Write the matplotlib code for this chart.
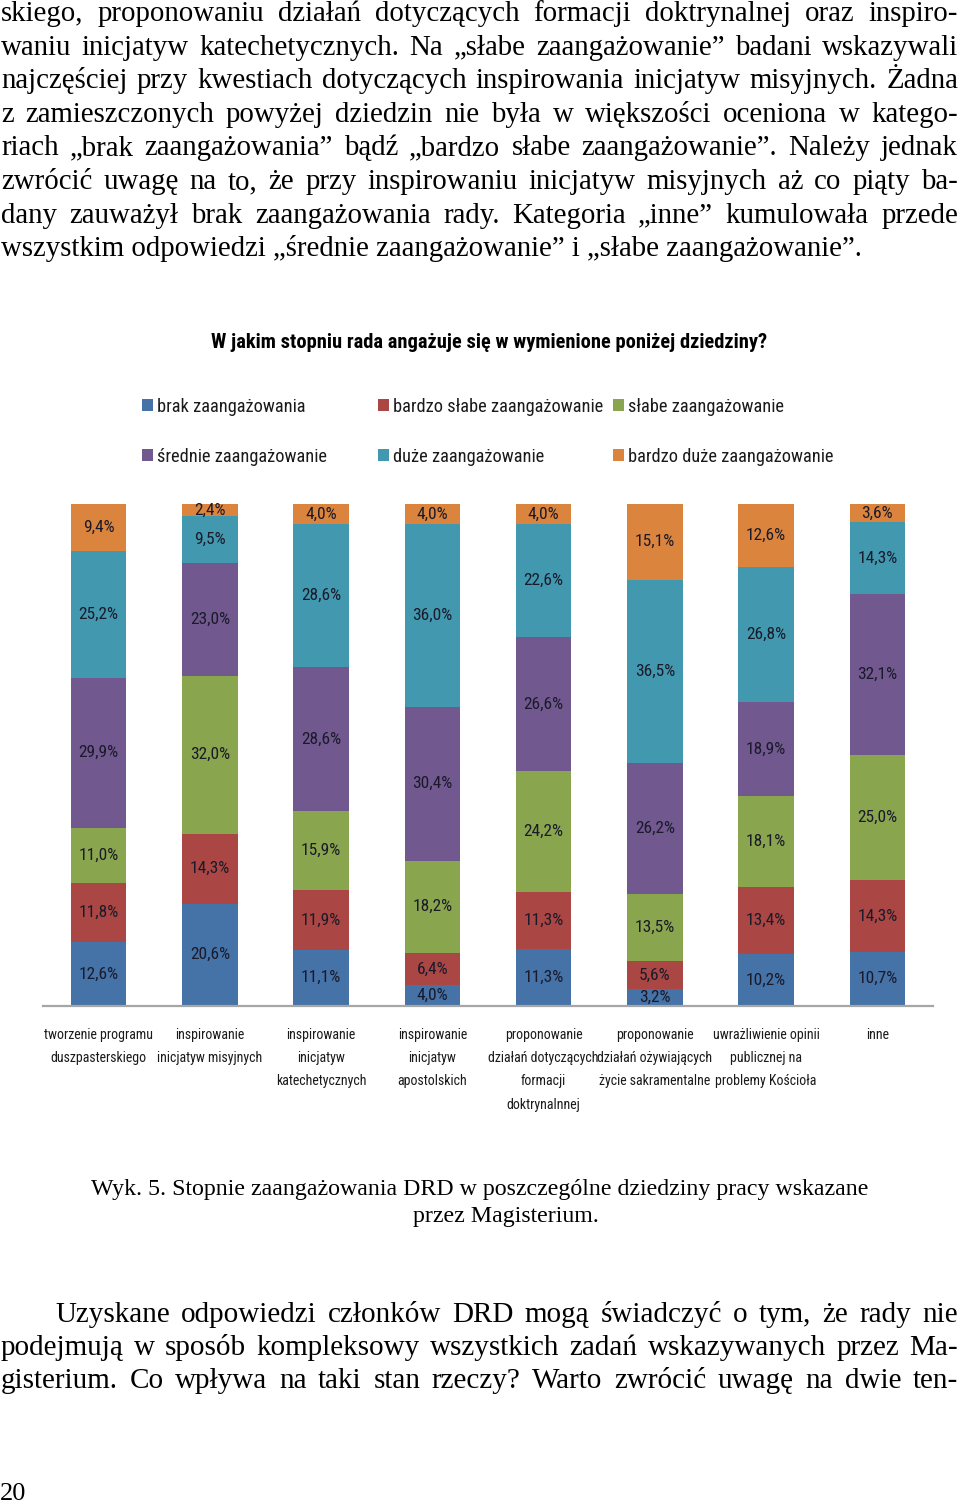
import matplotlib
matplotlib.use('Agg')
import matplotlib.pyplot as plt
import matplotlib.font_manager as fm
from matplotlib.patches import Rectangle
import numpy as np

# ---------------- data ----------------
categories = [
    ["tworzenie programu", "duszpasterskiego"],
    ["inspirowanie", "inicjatyw misyjnych"],
    ["inspirowanie", "inicjatyw", "katechetycznych"],
    ["inspirowanie", "inicjatyw", "apostolskich"],
    ["proponowanie", "działań dotyczących", "formacji", "doktrynalnnej"],
    ["proponowanie", "działań ożywiających", "życie sakramentalne"],
    ["uwrażliwienie opinii", "publicznej na", "problemy Kościoła"],
    ["inne"],
]
series_names = ["brak zaangażowania", "bardzo słabe zaangażowanie", "słabe zaangażowanie",
                "średnie zaangażowanie", "duże zaangażowanie", "bardzo duże zaangażowanie"]
brak = [12.6, 20.6, 11.1, 4.0, 11.3, 3.2, 10.2, 10.7]
bardzo_slabe = [11.8, 14.3, 11.9, 6.4, 11.3, 5.6, 13.4, 14.3]
slabe = [11.0, 32.0, 15.9, 18.2, 24.2, 13.5, 18.1, 25.0]
srednie = [29.9, 23.0, 28.6, 30.4, 26.6, 26.2, 18.9, 32.1]
duze = [25.2, 9.5, 28.6, 36.0, 22.6, 36.5, 26.8, 14.3]
bardzo_duze = [9.4, 2.4, 4.0, 4.0, 4.0, 15.1, 12.6, 3.6]
series = [brak, bardzo_slabe, slabe, srednie, duze, bardzo_duze]
colors = ['#4572A7', '#AA4643', '#89A54E', '#71588F', '#4198AF', '#DB843D']

title = "W jakim stopniu rada angażuje się w wymienione poniżej dziedziny?"

para1 = [
    "skiego, proponowaniu działań dotyczących formacji doktrynalnej oraz inspiro-",
    "waniu inicjatyw katechetycznych. Na „słabe zaangażowanie” badani wskazywali",
    "najczęściej przy kwestiach dotyczących inspirowania inicjatyw misyjnych. Żadna",
    "z zamieszczonych powyżej dziedzin nie była w większości oceniona w katego-",
    "riach „brak zaangażowania” bądź „bardzo słabe zaangażowanie”. Należy jednak",
    "zwrócić uwagę na to, że przy inspirowaniu inicjatyw misyjnych aż co piąty ba-",
    "dany zauważył brak zaangażowania rady. Kategoria „inne” kumulowała przede",
    "wszystkim odpowiedzi „średnie zaangażowanie” i „słabe zaangażowanie”.",
]
caption = ["Wyk. 5. Stopnie zaangażowania DRD w poszczególne dziedziny pracy wskazane",
           "przez Magisterium."]
para2 = [
    "Uzyskane odpowiedzi członków DRD mogą świadczyć o tym, że rady nie",
    "podejmują w sposób kompleksowy wszystkich zadań wskazywanych przez Ma-",
    "gisterium. Co wpływa na taki stan rzeczy? Warto zwrócić uwagę na dwie ten-",
]
page_number = "20"

# ---------------- fonts ----------------
avail = {f.name for f in fm.fontManager.ttflist}
narrow = None
for cand in ["Liberation Sans Narrow", "Roboto Condensed", "Open Sans Condensed", "Noto Sans Condensed", "Lato"]:
    if cand in avail:
        narrow = cand
        break
if narrow is None:
    narrow = "DejaVu Sans"
SANS = [narrow, "DejaVu Sans"]
SERIF = ["Liberation Serif", "DejaVu Serif"]

W, H = 960, 1506
fig = plt.figure(figsize=(W / 100, H / 100), dpi=100)
fig.patch.set_facecolor('white')

page = fig.add_axes([0, 0, 1, 1])
page.set_xlim(0, W)
page.set_ylim(H, 0)
page.axis('off')
renderer = fig.canvas.get_renderer()


def text_width(s, size, family):
    t = page.text(0, 0, s, fontsize=size, family=family)
    w = t.get_window_extent(renderer).width
    t.remove()
    return w


def paragraph(lines, baselines, x0, x1, size, family, justify_last=False, indent=0):
    ratio = 0
    for i, ln in enumerate(lines):
        xs = x0 + (indent if i == 0 else 0)
        ratio = max(ratio, text_width(ln, size, family) / (x1 - xs))
    if ratio > 0.985:
        size = size * 0.985 / ratio
    for i, (ln, yb) in enumerate(zip(lines, baselines)):
        xs = x0 + (indent if i == 0 else 0)
        last = (i == len(lines) - 1) and not justify_last
        if last:
            page.text(xs, yb, ln, fontsize=size, family=family, va='baseline', ha='left')
            continue
        words = ln.split(' ')
        objs = [page.text(0, yb, w, fontsize=size, family=family, va='baseline', ha='left') for w in words]
        widths = [o.get_window_extent(renderer).width for o in objs]
        gap = (x1 - xs - sum(widths)) / max(1, len(words) - 1)
        x = xs
        for o, wd in zip(objs, widths):
            o.set_x(x)
            x += wd + gap
    return size


base1 = [21 + 33.6 * i for i in range(len(para1))]
paragraph(para1, base1, 1, 958, 21, SERIF)

# caption
page.text(480, 1195, caption[0], fontsize=17.2, family=SERIF, ha='center', va='baseline')
page.text(506, 1222, caption[1], fontsize=17.2, family=SERIF, ha='center', va='baseline')

base2 = [1321.5, 1355, 1388.5]
paragraph(para2, base2, 1, 958, 21, SERIF, justify_last=True, indent=54)
page.text(0, 1500, page_number, fontsize=19, family=SERIF, va='baseline', ha='left')

# title
page.text(489, 348, title, fontsize=14.8, family=SANS, weight='bold', ha='center', va='baseline')

# legend (manual, equal-width columns like the original)
leg_x = [142, 378, 613]
leg_y = [411.5, 461.5]
for i, name in enumerate(series_names):
    r, c = divmod(i, 3)
    page.add_patch(Rectangle((leg_x[c], leg_y[r] - 13), 11, 12, facecolor=colors[i], edgecolor='none'))
    page.text(leg_x[c] + 15, leg_y[r], name, fontsize=13.2, family=SANS, va='baseline', ha='left', color='#1a1a1a')

# ---------------- chart ----------------
ax = fig.add_axes([43 / W, (H - 1005.5) / H, 890 / W, 501.5 / H])
x = np.arange(len(categories))
totals = np.sum(np.array(series), axis=0)
bottom = np.zeros(len(categories))
for vals, col in zip(series, colors):
    vals = np.array(vals)
    pct = vals / totals * 100
    ax.bar(x, pct, 0.5, bottom=bottom, color=col, edgecolor='none', zorder=2)
    for xi, b, p, v in zip(x, bottom, pct, vals):
        lbl = f"{v:.1f}".replace('.', ',') + '%'
        ax.text(xi, b + p / 2, lbl, ha='center', va='center', fontsize=12.5,
                family=SANS, color='#1a1a2a', zorder=3)
    bottom += pct

ax.set_xlim(-0.5, len(categories) - 0.5)
ax.set_ylim(0, 100)
ax.set_yticks([])
for s in ['top', 'left', 'right']:
    ax.spines[s].set_visible(False)
ax.spines['bottom'].set_color('#a6a6a6')
ax.spines['bottom'].set_linewidth(1.6)
ax.set_xticks(x)
ax.set_xticklabels(['\n'.join(c) for c in categories], fontsize=10, family=SANS,
                   linespacing=1.85, color='#1a1a1a', va='top')
ax.tick_params(axis='x', length=0, pad=16)
ax.set_facecolor('none')

fig.savefig('out.png', dpi=100, facecolor='white')
